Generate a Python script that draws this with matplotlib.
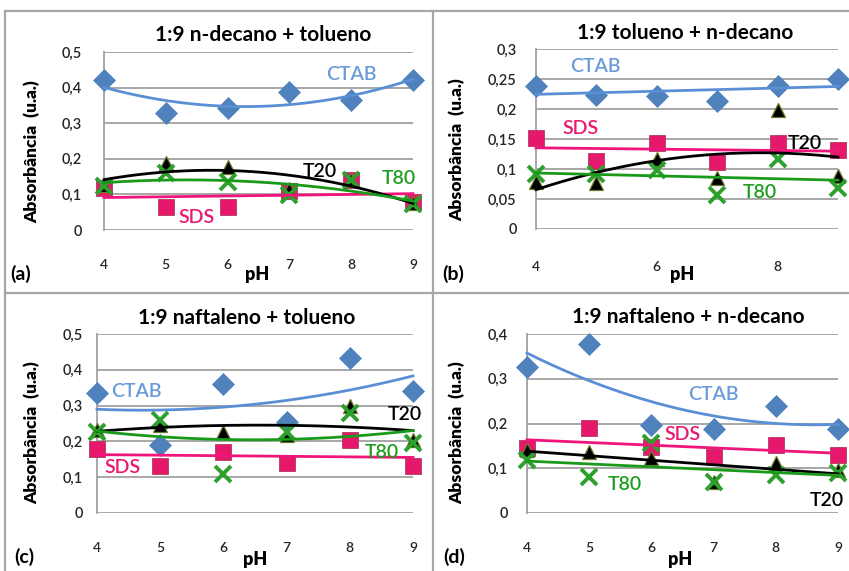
import numpy as np
import matplotlib
matplotlib.use("Agg")
import matplotlib.pyplot as plt
from matplotlib.lines import Line2D

plt.rcParams['font.family'] = ['Lato', 'DejaVu Sans']

W, H = 849, 571

ph = [4, 5, 6, 7, 8, 9]

# (a) 1:9 n-decano + tolueno
a_ctab = [0.42, 0.328, 0.342, 0.389, 0.366, 0.42]
a_sds = [0.118, 0.066, 0.066, 0.11, 0.14, 0.08]
a_t20 = [0.127, 0.188, 0.178, 0.115, 0.14, 0.075]
a_t80 = [0.125, 0.160, 0.136, 0.097, 0.141, 0.072]

# (b) 1:9 tolueno + n-decano
b_ctab = [0.239, 0.224, 0.221, 0.213, 0.239, 0.25]
b_sds = [0.152, 0.113, 0.143, 0.111, 0.144, 0.132]
b_t20 = [0.079, 0.077, 0.117, 0.085, 0.199, 0.088]
b_t80 = [0.092, 0.091, 0.099, 0.057, 0.117, 0.068]

# (c) 1:9 naftaleno + tolueno
c_ctab = [0.335, 0.19, 0.36, 0.255, 0.434, 0.34]
c_sds = [0.18, 0.13, 0.171, 0.139, 0.204, 0.131]
c_t20 = [0.232, 0.246, 0.227, 0.218, 0.30, 0.204]
c_t80 = [0.227, 0.26, 0.11, 0.227, 0.278, 0.195]

# (d) 1:9 naftaleno + n-decano
d_ctab = [0.327, 0.377, 0.197, 0.188, 0.24, 0.188]
d_sds = [0.145, 0.19, 0.148, 0.126, 0.152, 0.13]
d_t20 = [0.141, 0.137, 0.122, 0.07, 0.111, 0.096]
d_t80 = [0.119, 0.081, 0.156, 0.07, 0.085, 0.089]

titles = ["1:9 n-decano + tolueno", "1:9 tolueno + n-decano",
          "1:9 naftaleno + tolueno", "1:9 naftaleno + n-decano"]
letters = ["(a)", "(b)", "(c)", "(d)"]
series_names = ["CTAB", "SDS", "T20", "T80"]

# trendline polynomial degree per panel, per series (CTAB, SDS, T20, T80)
fit_deg = [[2, 1, 2, 2], [1, 1, 2, 1], [2, 1, 2, 2], [2, 1, 1, 1]]

y_max = [0.5, 0.3, 0.5, 0.4]
y_step = [0.1, 0.05, 0.1, 0.1]
x_ticks = [ph, [4, 6, 8], ph, ph]

panels = [
    [a_ctab, a_sds, a_t20, a_t80],
    [b_ctab, b_sds, b_t20, b_t80],
    [c_ctab, c_sds, c_t20, c_t80],
    [d_ctab, d_sds, d_t20, d_t80],
]

# plot-area boxes in pixels: left, right, top, bottom
boxes = [(104, 413, 52, 230), (536, 838, 49, 229),
         (97, 413, 334, 513), (527, 838, 334, 513)]
xpad = [21, 23, 21, 21]
ypad = [16, 14, 10, 14]

# label placements (data coords) for CTAB, SDS, T20, T80
label_pos = [
    [(8.0, 0.437), (5.5, 0.034), (7.5, 0.163), (8.77, 0.146)],
    [(4.99, 0.27), (4.73, 0.168), (8.45, 0.143), (7.71, 0.06)],
    [(4.63, 0.338), (4.4, 0.128), (8.87, 0.274), (8.5, 0.17)],
    [(7.0, 0.264), (6.5, 0.175), (8.82, 0.029), (5.58, 0.063)],
]

# text placements in pixels: title, y-label, pH label, panel letter
title_px = [(263, 35), (685, 33), (247, 318), (688, 317)]
ylab_px = [(32, 152), (457, 150), (32, 433), (457, 433)]
ph_px = [(257, 274), (682, 274), (255, 559), (680, 559)]
letter_px = [(21, 274), (453, 274), (24, 557), (454, 557)]

marker_style = [
    dict(marker='D', ms=11, mfc='#4F81BD', mec='#4F81BD', mew=0.5, ls='none'),
    dict(marker='s', ms=11.5, mfc='#E6186C', mec='#B03A5E', mew=0.6, ls='none'),
    dict(marker='^', ms=10.5, mfc='black', mec='#6B7A2A', mew=0.9, ls='none'),
    dict(marker='x', ms=12, mfc='none', mec='#2DA02D', mew=2.8, ls='none'),
]
line_colors = ['#5B8FD5', '#F0157A', '#000000', '#1A9A1A']
text_colors = ['#6A9BD8', '#E8196E', '#000000', '#1E9E1E']

fig = plt.figure(figsize=(W / 100, H / 100), dpi=100)


def fx(px):
    return px / W


def fy(py):
    return 1 - py / H


def fmt(v):
    s = f"{v:.2f}".rstrip('0').rstrip('.')
    return s.replace('.', ',')


xs = np.linspace(4, 9, 300)

for i in range(4):
    l, r, t, b = boxes[i]
    ax = fig.add_axes([fx(l), fy(b), (r - l) / W, (b - t) / H])
    ax.set_xlim(4, 9)
    ax.set_ylim(0, y_max[i])
    yt = np.round(np.arange(0, y_max[i] + 1e-9, y_step[i]), 3)
    ax.set_yticks(yt)
    ax.set_yticklabels([fmt(v) for v in yt])
    ax.set_xticks(x_ticks[i])
    ax.set_xticklabels([str(v) for v in x_ticks[i]])
    ax.tick_params(axis='x', length=0, pad=xpad[i], labelsize=10, labelcolor='#262626')
    ax.tick_params(axis='y', length=0, pad=ypad[i], labelsize=10.5, labelcolor='#262626')
    for lab in ax.get_xticklabels() + ax.get_yticklabels():
        lab.set_fontweight('semibold')
    for s in ['top', 'right', 'bottom']:
        ax.spines[s].set_visible(False)
    ax.spines['left'].set_color('#A0A0A0')
    ax.spines['left'].set_linewidth(1.3)
    for v in yt:
        ax.axhline(v, color='#A0A0A0', lw=1.3, zorder=1)

    for k, ys in enumerate(panels[i]):
        ax.plot(ph, ys, clip_on=False, zorder=3 + k, **marker_style[k])
    for k, ys in enumerate(panels[i]):
        coef = np.polyfit(ph, ys, fit_deg[i][k])
        ax.plot(xs, np.polyval(coef, xs), color=line_colors[k], lw=2.0,
                zorder=8 + k, clip_on=False)
    for k, name in enumerate(series_names):
        x0, y0 = label_pos[i][k]
        ax.text(x0, y0, name, color=text_colors[k], fontsize=14,
                fontweight='semibold', ha='center', va='center', zorder=20)

    fig.text(fx(title_px[i][0]), fy(title_px[i][1]), titles[i],
             fontsize=15, fontweight='bold', ha='center', va='center')
    fig.text(fx(ylab_px[i][0]), fy(ylab_px[i][1]), "Absorbância  (u.a.)",
             fontsize=12.5, fontweight='heavy', rotation=90, ha='center', va='center')
    fig.text(fx(ph_px[i][0]), fy(ph_px[i][1]), "pH",
             fontsize=13, fontweight='heavy', ha='center', va='center')
    fig.text(fx(letter_px[i][0]), fy(letter_px[i][1]), letters[i],
             fontsize=14, fontweight='bold', ha='center', va='center')

# panel frame lines
frame = '#A6A6A6'
for (x0, y0, x1, y1) in [(5, 11, 849, 11), (5, 11, 5, 571),
                         (433, 11, 433, 571), (5, 293, 849, 293)]:
    fig.add_artist(Line2D([fx(x0), fx(x1)], [fy(y0), fy(y1)],
                          color=frame, lw=1.6, transform=fig.transFigure))

fig.savefig("out.png", dpi=100)
